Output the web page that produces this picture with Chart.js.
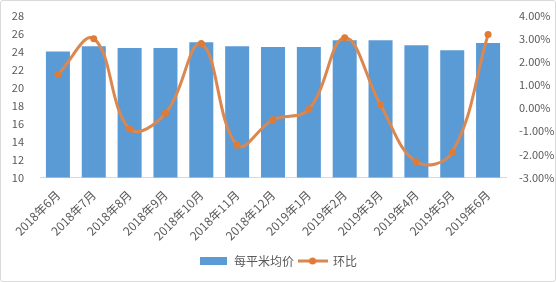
<!DOCTYPE html>
<html>
<head>
<meta charset="utf-8">
<script src="https://cdn.jsdelivr.net/npm/chart.js@4"></script>
<style>
  body { margin: 0; background: #fff; }
  #box { width: 556px; height: 282px; box-sizing: border-box; border: 1px solid #d9d9d9; border-radius: 3px; }
</style>
</head>
<body>
<div id="box"><canvas id="priceChart" width="554" height="280"></canvas></div>
<script>
// categories and values
const months = ["2018年6月", "2018年7月", "2018年8月", "2018年9月", "2018年10月", "2018年11月", "2018年12月",
  "2019年1月", "2019年2月", "2019年3月", "2019年4月", "2019年5月", "2019年6月"];
const avgPrice = [24.0, 24.6, 24.4, 24.4, 25.05, 24.6, 24.5, 24.5, 25.25, 25.25, 24.7, 24.15, 24.95];
const momChange = [1.45, 3.0, -0.9, -0.22, 2.79, -1.6, -0.5, -0.05, 3.04, 0.14, -2.32, -1.9, 3.18];

const barColor = "#5B9BD5";
const lineColor = "#DA8750";
const textColor = "#595959";

// little legend swatches like excel draws them
function swatchBar() {
  const c = document.createElement("canvas");
  c.width = 27; c.height = 8;
  const ctx = c.getContext("2d");
  ctx.fillStyle = barColor;
  ctx.fillRect(0, 0, 27, 8);
  return c;
}
function swatchLine() {
  const c = document.createElement("canvas");
  c.width = 30; c.height = 10;
  const ctx = c.getContext("2d");
  ctx.strokeStyle = lineColor;
  ctx.lineWidth = 3;
  ctx.beginPath(); ctx.moveTo(0, 5); ctx.lineTo(30, 5); ctx.stroke();
  ctx.fillStyle = "#E07B35";
  ctx.beginPath(); ctx.arc(15, 5, 3.5, 0, Math.PI * 2); ctx.fill();
  return c;
}

new Chart("priceChart", {
  type: "bar",
  data: {
    labels: months,
    datasets: [{
      label: "每平米均价",
      data: avgPrice,
      backgroundColor: barColor,
      yAxisID: "y",
      barPercentage: 0.67,
      categoryPercentage: 1,
      order: 2
    }, {
      type: "line",
      label: "环比",
      data: momChange,
      borderColor: lineColor,
      borderWidth: 3,
      tension: 0.4,
      pointRadius: 3.5,
      pointBackgroundColor: "#E07B35",
      pointBorderWidth: 0,
      yAxisID: "y1",
      order: 1
    }]
  },
  options: {
    responsive: false,
    animation: false,
    layout: { padding: { top: 10, left: 0, right: 0, bottom: 4 } },
    plugins: {
      tooltip: { enabled: false },
      legend: {
        position: "bottom",
        labels: {
          usePointStyle: true,
          pointStyleWidth: 29,
          color: textColor,
          font: { family: "'Noto Sans CJK SC'", size: 12 },
          padding: 4,
          generateLabels: function () {
            return [
              { text: "每平米均价", pointStyle: swatchBar(), fontColor: textColor, datasetIndex: 0, lineWidth: 0 },
              { text: "环比", pointStyle: swatchLine(), fontColor: textColor, datasetIndex: 1, lineWidth: 0 }
            ];
          }
        }
      }
    },
    scales: {
      x: {
        grid: { display: false },
        border: { color: "#d9d9d9" },
        ticks: {
          color: textColor,
          font: { family: "'Noto Sans CJK SC'", size: 12 },
          minRotation: 45,
          maxRotation: 45,
          autoSkip: false,
          padding: 2
        },
        afterFit: function (scale) { scale.height += 6; }
      },
      y: {
        position: "left",
        min: 10,
        max: 28,
        grid: { display: false },
        border: { display: false },
        ticks: {
          stepSize: 2,
          color: textColor,
          font: { family: "'Noto Sans CJK SC'", size: 11 },
          padding: 8
        },
        afterFit: function (scale) { scale.width = 39; }
      },
      y1: {
        position: "right",
        min: -3,
        max: 4,
        grid: { display: false },
        border: { display: false },
        ticks: {
          stepSize: 1,
          color: textColor,
          font: { family: "'Noto Sans CJK SC'", size: 11 },
          padding: 5,
          callback: function (v) { return v.toFixed(2) + "%"; }
        },
        afterFit: function (scale) { scale.width = 49; }
      }
    }
  }
});
</script>
</body>
</html>
